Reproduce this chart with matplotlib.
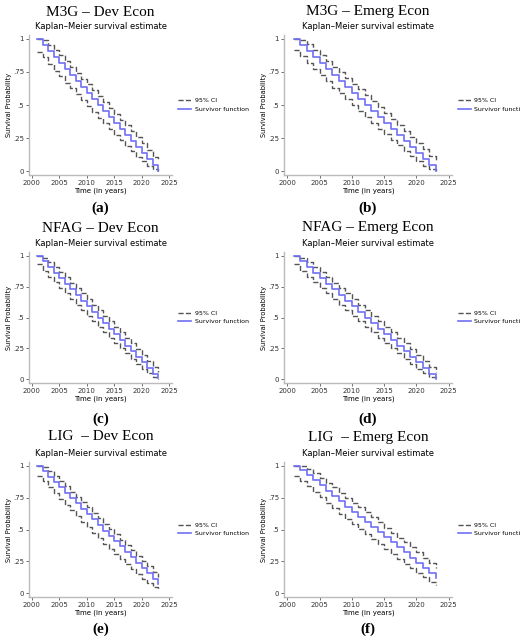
import numpy as np
import matplotlib.pyplot as plt

years = np.arange(2001, 2024)

# survivor function and 95% CI
s_a = [1, .955, .91, .864, .818, .773, .727, .682, .636, .591, .545, .5, .455, .409, .364, .318, .273, .227, .182, .136, .091, .045, 0]
hi_a = [1, .99, .955, .915, .875, .83, .79, .745, .70, .66, .615, .57, .525, .48, .435, .39, .345, .30, .255, .21, .16, .11, .09]
lo_a = [.90, .86, .81, .76, .72, .67, .625, .58, .535, .49, .445, .40, .36, .315, .275, .235, .19, .15, .11, .075, .04, .015, 0]

s_b = [1, .955, .91, .864, .818, .773, .727, .682, .636, .591, .545, .5, .455, .409, .364, .318, .273, .227, .182, .136, .091, .045, 0]
hi_b = [1, .99, .96, .92, .88, .835, .79, .75, .705, .66, .62, .575, .53, .485, .44, .395, .35, .305, .26, .215, .165, .115, .07]
lo_b = [.92, .87, .82, .77, .73, .68, .63, .59, .545, .50, .455, .41, .365, .32, .28, .235, .195, .155, .115, .075, .04, .015, 0]

s_c = [1, .955, .91, .864, .818, .773, .727, .682, .636, .591, .545, .5, .455, .409, .364, .318, .273, .227, .182, .136, .091, .045, .01]
hi_c = [1, .985, .95, .91, .87, .825, .78, .74, .695, .65, .605, .56, .515, .47, .425, .38, .335, .29, .245, .20, .15, .10, .06]
lo_c = [.93, .88, .83, .785, .74, .695, .65, .605, .56, .515, .47, .425, .38, .335, .295, .25, .21, .165, .125, .085, .05, .02, 0]

s_d = [1, .955, .91, .864, .818, .773, .727, .682, .636, .591, .545, .5, .455, .409, .364, .318, .273, .227, .182, .136, .091, .045, .005]
hi_d = [1, .985, .95, .91, .87, .825, .78, .74, .695, .65, .605, .56, .515, .47, .425, .38, .335, .29, .245, .20, .15, .10, .06]
lo_d = [.93, .88, .83, .785, .74, .695, .65, .605, .56, .515, .47, .425, .38, .335, .295, .25, .21, .165, .125, .085, .05, .02, 0]

s_e = [1, .96, .915, .875, .83, .79, .745, .705, .66, .62, .58, .535, .49, .45, .41, .37, .325, .285, .24, .20, .16, .115, .075]
hi_e = [1, .99, .96, .92, .88, .84, .795, .755, .715, .675, .63, .59, .545, .505, .465, .42, .38, .34, .295, .255, .21, .17, .13]
lo_e = [.92, .88, .83, .785, .74, .695, .65, .605, .56, .52, .475, .435, .39, .35, .31, .27, .23, .19, .15, .115, .08, .05, .025]

s_f = [1, .97, .93, .89, .85, .80, .76, .72, .68, .64, .60, .56, .52, .48, .44, .40, .36, .32, .28, .24, .20, .16, .12]
hi_f = [1, 1, .975, .94, .905, .865, .83, .79, .75, .71, .675, .635, .595, .555, .515, .475, .435, .40, .36, .32, .28, .24, .20]
lo_f = [.92, .88, .84, .795, .755, .71, .67, .625, .585, .545, .505, .465, .425, .385, .345, .31, .27, .23, .195, .16, .125, .09, .065]

titles = ["M3G – Dev Econ", "M3G – Emerg Econ", "NFAG – Dev Econ",
          "NFAG – Emerg Econ", "LIG  – Dev Econ", "LIG  – Emerg Econ"]
captions = ["(a)", "(b)", "(c)", "(d)", "(e)", "(f)"]
series = [(s_a, lo_a, hi_a), (s_b, lo_b, hi_b), (s_c, lo_c, hi_c),
          (s_d, lo_d, hi_d), (s_e, lo_e, hi_e), (s_f, lo_f, hi_f)]

fig = plt.figure(figsize=(5.2, 6.41), dpi=100)
W, H = 520, 641
# axes boxes in pixels: left, top, right, bottom
lefts = [29, 284]
rights = [172, 452]
rows = [(35, 175, 12, 208), (252, 383, 228, 419), (462, 597, 437, 629)]

for i in range(6):
    r, c = divmod(i, 2)
    top, bot, ty, cy = rows[r]
    l, rr = lefts[c], rights[c]
    ax = fig.add_axes([l / W, 1 - bot / H, (rr - l) / W, (bot - top) / H])
    s, lo, hi = series[i]
    ax.step(years, hi, where='post', color='#555555', ls='--', lw=1.0, label='95% CI')
    ax.step(years, lo, where='post', color='#555555', ls='--', lw=1.0)
    ax.step(years, s, where='post', color='#6f6ff5', lw=1.2, label='Survivor function')
    ax.set_xlim(1999.5, 2025.5)
    ax.set_ylim(-0.03, 1.03)
    ax.set_xticks([2000, 2005, 2010, 2015, 2020, 2025])
    ax.set_yticks([0, .25, .5, .75, 1])
    ax.set_yticklabels(['0', '.25', '.5', '.75', '1'])
    ax.tick_params(labelsize=5, length=2, width=0.5, pad=1.5, colors='#333333')
    for sp in ['top', 'right']:
        ax.spines[sp].set_visible(False)
    for sp in ['left', 'bottom']:
        ax.spines[sp].set_color('#bbbbbb')
        ax.spines[sp].set_linewidth(1.0)
    ax.set_title("Kaplan–Meier survival estimate", fontsize=6, pad=4)
    ax.set_xlabel("Time (in years)", fontsize=5, labelpad=1)
    ax.set_ylabel("Survival Probability", fontsize=4.8, labelpad=1)
    ax.legend(loc='center left', bbox_to_anchor=(1.0, 0.5), frameon=False,
              fontsize=4.5, handlelength=2.2, handletextpad=0.5)
    cx = (l + rr) / 2 / W
    fig.text(cx, 1 - ty / H, titles[i], ha='center', va='center',
             family='Liberation Serif', fontsize=11)
    fig.text(cx, 1 - cy / H, captions[i], ha='center', va='center',
             family='Liberation Serif', fontsize=11, weight='bold')

fig.savefig("out.png", dpi=100, facecolor='white')
